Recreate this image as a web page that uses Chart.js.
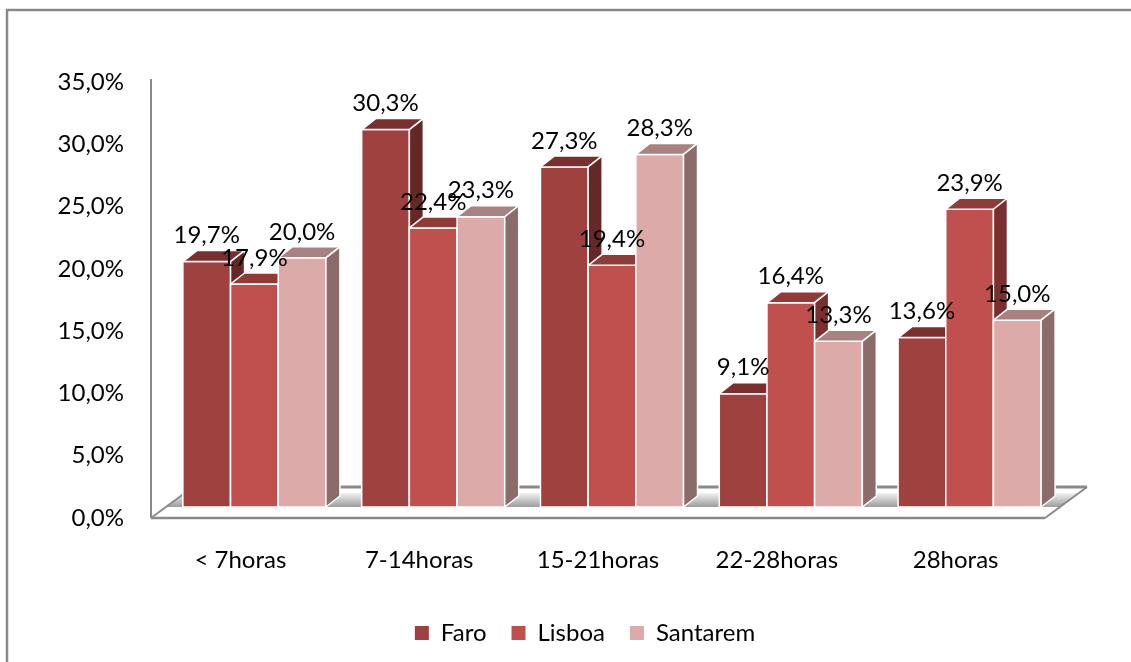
<!DOCTYPE html>
<html><head><meta charset="utf-8">
<script src="https://cdn.jsdelivr.net/npm/chart.js@4.4.1/dist/chart.umd.min.js"></script>
<style>html,body{margin:0;padding:0;background:#fff;}#wrap{width:1131px;height:662px;}</style>
</head><body><div id="wrap"><canvas id="c" width="1131" height="662"></canvas></div>
<script>
const categories = ['< 7horas', '7-14horas', '15-21horas', '22-28horas', '28horas'];
const seriesNames = ['Faro', 'Lisboa', 'Santarem'];
const faro = [19.7, 30.3, 27.3, 9.1, 13.6];
const lisboa = [17.9, 22.4, 19.4, 16.4, 23.9];
const santarem = [20.0, 23.3, 28.3, 13.3, 15.0];
const yTickMin = 0, yTickMax = 35, yTickStep = 5;

const frontColors = ['#9E413F', '#C0504D', '#DBAAA9'];
const topColors = ['#7A2F2E', '#913B39', '#A88281'];
const sideColors = ['#642827', '#7A2E2D', '#8C6C6B'];

const DX = 14, DY = -11;          // bar depth offset
const FDX = 42, FDY = -31;        // floor depth
const GRAY = '#8a8a8a';

function fmt(v) { return v.toFixed(1).replace('.', ',') + '%'; }

const bars3d = {
  id: 'bars3d',
  beforeDraw(chart) {
    const ctx = chart.ctx;
    ctx.save();
    ctx.fillStyle = '#fff';
    ctx.fillRect(0, 0, chart.width, chart.height);
    ctx.strokeStyle = GRAY;
    ctx.lineWidth = 2.5;
    ctx.strokeRect(7, 10, 1300, 800);
    ctx.restore();
  },
  beforeDatasetsDraw(chart) {
    const ctx = chart.ctx;
    const a = chart.chartArea;
    const L = a.left, R = a.right, B = a.bottom;
    ctx.save();
    // floor
    ctx.beginPath();
    ctx.moveTo(L, B); ctx.lineTo(R, B); ctx.lineTo(R + FDX, B + FDY); ctx.lineTo(L + FDX, B + FDY); ctx.closePath();
    ctx.fillStyle = '#fff'; ctx.fill();
    const k = FDX / -FDY;
    const y1 = B + DY, y2 = B + DY - 14;
    ctx.beginPath();
    ctx.moveTo(L + (B - y1) * k, y1); ctx.lineTo(R + (B - y1) * k, y1);
    ctx.lineTo(R + (B - y2) * k, y2); ctx.lineTo(L + (B - y2) * k, y2); ctx.closePath();
    const g = ctx.createLinearGradient(0, y1, 0, y2);
    g.addColorStop(0, '#9c9c9c'); g.addColorStop(1, '#f2f2f2');
    ctx.fillStyle = g; ctx.fill();
    ctx.strokeStyle = GRAY;
    ctx.lineWidth = 3;
    ctx.beginPath(); ctx.moveTo(L + FDX, B + FDY); ctx.lineTo(R + FDX, B + FDY); ctx.stroke();
    ctx.lineWidth = 2;
    ctx.beginPath(); ctx.moveTo(L, B); ctx.lineTo(L + FDX, B + FDY); ctx.stroke();
    ctx.beginPath(); ctx.moveTo(R, B); ctx.lineTo(R + FDX, B + FDY); ctx.stroke();
    ctx.lineWidth = 2.5;
    ctx.beginPath(); ctx.moveTo(L, B); ctx.lineTo(R, B); ctx.stroke();
    ctx.lineWidth = 2;
    ctx.beginPath(); ctx.moveTo(L, a.top - 3); ctx.lineTo(L, B); ctx.stroke();

    // bars
    const n = chart.data.labels.length;
    const metas = chart.data.datasets.map((d, i) => chart.getDatasetMeta(i));
    ctx.strokeStyle = '#ffffff';
    ctx.lineWidth = 1.5;
    ctx.lineJoin = 'round';
    for (let j = 0; j < n; j++) {
      metas.forEach((meta, i) => {
        const el = meta.data[j];
        const p = el.getProps(['x', 'y', 'base', 'width'], true);
        const fl = p.x - p.width / 2 + DX, fr = p.x + p.width / 2 + DX;
        const ft = p.y + DY, fb = p.base + DY;
        ctx.fillStyle = frontColors[i];
        ctx.beginPath(); ctx.rect(fl, ft, fr - fl, fb - ft); ctx.fill(); ctx.stroke();
        ctx.fillStyle = topColors[i];
        ctx.beginPath();
        ctx.moveTo(fl, ft); ctx.lineTo(fr, ft); ctx.lineTo(fr + DX, ft + DY); ctx.lineTo(fl + DX, ft + DY); ctx.closePath();
        ctx.fill(); ctx.stroke();
        ctx.fillStyle = sideColors[i];
        ctx.beginPath();
        ctx.moveTo(fr, ft); ctx.lineTo(fr + DX, ft + DY); ctx.lineTo(fr + DX, fb + DY); ctx.lineTo(fr, fb); ctx.closePath();
        ctx.fill(); ctx.stroke();
      });
    }
    // labels
    ctx.fillStyle = '#000';
    ctx.font = '24px Lato, "Open Sans", sans-serif';
    ctx.textAlign = 'center';
    ctx.textBaseline = 'middle';
    metas.forEach((meta, i) => {
      meta.data.forEach((el, j) => {
        const p = el.getProps(['x', 'y'], true);
        const v = chart.data.datasets[i].data[j];
        ctx.fillText(fmt(v), p.x + DX, p.y + DY - 26);
      });
    });
    ctx.restore();
    return false;
  }
};

Chart.defaults.font.family = 'Lato, "Open Sans", sans-serif';
Chart.defaults.font.size = 24;
Chart.defaults.color = '#000';

new Chart(document.getElementById('c'), {
  type: 'bar',
  data: {
    labels: categories,
    datasets: [
      { label: seriesNames[0], data: faro, backgroundColor: frontColors[0], borderWidth: 0 },
      { label: seriesNames[1], data: lisboa, backgroundColor: frontColors[1], borderWidth: 0 },
      { label: seriesNames[2], data: santarem, backgroundColor: frontColors[2], borderWidth: 0 }
    ]
  },
  options: {
    responsive: false,
    animation: false,
    devicePixelRatio: 1,
    layout: { padding: { left: 125, right: 86, top: 82, bottom: 7 } },
    datasets: { bar: { categoryPercentage: 0.8, barPercentage: 1.0 } },
    plugins: {
      legend: {
        position: 'bottom',
        labels: { boxWidth: 14, boxHeight: 14, padding: 25, color: '#000', font: { size: 24 } }
      },
      tooltip: { enabled: false },
      title: { display: false }
    },
    scales: {
      x: {
        grid: { display: false, drawTicks: false },
        border: { display: false },
        ticks: { padding: 28, color: '#000', maxRotation: 0, autoSkip: false },
        afterFit(s) { s.height = 78; }
      },
      y: {
        min: yTickMin, max: yTickMax,
        grid: { display: false, drawTicks: false },
        border: { display: false },
        ticks: { stepSize: yTickStep, padding: 27, color: '#000', callback: v => fmt(v) },
        afterFit(s) { s.width = 26; s._computeLabelArea = () => undefined; }
      }
    }
  },
  plugins: [bars3d]
});
</script>
</body></html>
